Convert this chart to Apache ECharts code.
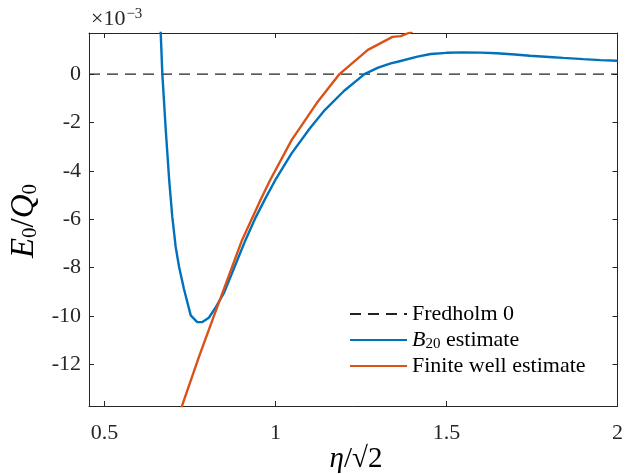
<!DOCTYPE html>
<html>
<head>
<meta charset="utf-8">
<script src="https://cdn.jsdelivr.net/npm/echarts@6/dist/echarts.min.js"></script>
<style>
html,body{margin:0;padding:0;background:#fff;}
#chart{width:626px;height:474px;}
</style>
</head>
<body>
<div id="chart"></div>
<script>
// ---- data (y values in units of 1e-3) ----
var xTicks = [0.5, 1, 1.5, 2];
var yTicks = [-12, -10, -8, -6, -4, -2, 0];
var seriesNames = ['Fredholm 0', 'B20 estimate', 'Finite well estimate'];

var fredholmX = [0.4545, 2];
var fredholmY = [0, 0];

var b20X = [0.660, 0.669, 0.679, 0.689, 0.698, 0.708, 0.718, 0.732, 0.752, 0.771, 0.786, 0.805, 0.825, 0.850, 0.880, 0.912, 0.940, 0.970, 0.999, 1.047, 1.100, 1.144, 1.200, 1.260, 1.300, 1.337, 1.357, 1.415, 1.454, 1.500, 1.550, 1.600, 1.647, 1.700, 1.744, 1.800, 1.841, 1.900, 1.950, 2.000];
var b20Y = [3.2, 0.0, -2.32, -4.39, -5.90, -7.15, -7.98, -8.88, -9.98, -10.26, -10.26, -10.08, -9.65, -9.03, -7.98, -6.87, -5.98, -5.15, -4.39, -3.28, -2.25, -1.49, -0.70, 0.0, 0.27, 0.44, 0.51, 0.72, 0.83, 0.88, 0.90, 0.89, 0.86, 0.81, 0.76, 0.71, 0.67, 0.62, 0.58, 0.55];

var wellX = [0.720, 0.727, 0.776, 0.815, 0.844, 0.902, 0.958, 0.984, 1.047, 1.120, 1.187, 1.270, 1.342, 1.366, 1.391, 1.400];
var wellY = [-14.0, -13.7, -11.7, -10.19, -9.08, -6.87, -5.15, -4.39, -2.73, -1.21, 0.0, 1.00, 1.54, 1.57, 1.71, 1.76];

var xMin = 0.4545, xMax = 2;
var yMin = -13.73, yMax = 1.70;

function pairs(xs, ys) { return xs.map(function (x, i) { return [x, ys[i]]; }); }

var FONT = "'Liberation Serif', 'Times New Roman', serif";
var AX = '#262626';

var chart = echarts.init(document.getElementById('chart'), null, {renderer: 'canvas'});

function mkX(pos, show) {
  return {
    type: 'value', position: pos, min: xMin, max: xMax,
    axisLine: {show: true, onZero: false, lineStyle: {color: AX, width: 1}},
    axisTick: {show: true, inside: true, length: 5, lineStyle: {color: AX}, customValues: xTicks},
    axisLabel: {show: show, customValues: xTicks, margin: 16, color: AX, fontFamily: FONT, fontSize: 22},
    splitLine: {show: false}
  };
}
function mkY(pos, show) {
  return {
    type: 'value', position: pos, min: yMin, max: yMax,
    axisLine: {show: true, onZero: false, lineStyle: {color: AX, width: 1}},
    axisTick: {show: true, inside: true, length: 5, lineStyle: {color: AX}, customValues: yTicks},
    axisLabel: {show: show, customValues: yTicks, margin: 8, color: AX, fontFamily: FONT, fontSize: 22},
    splitLine: {show: false}
  };
}

var option = {
  animation: false,
  backgroundColor: '#fff',
  grid: {left: 89, right: 4, top: 33, bottom: 68, containLabel: false},
  xAxis: [mkX('bottom', true), mkX('top', false)],
  yAxis: [mkY('left', true), mkY('right', false)],
  legend: {
    left: 344, top: 297, orient: 'vertical',
    itemWidth: 57, itemHeight: 14, itemGap: 2,
    data: seriesNames,
    itemStyle: {opacity: 0},
    textStyle: {
      fontFamily: FONT, fontSize: 22, color: '#000', lineHeight: 24,
      rich: {
        it: {fontFamily: FONT, fontSize: 22, fontStyle: 'italic', color: '#000'},
        sub: {fontFamily: FONT, fontSize: 15, color: '#000', verticalAlign: 'bottom', padding: [7, 0, 0, 0]},
        rm: {fontFamily: FONT, fontSize: 22, color: '#000'}
      }
    },
    formatter: function (n) {
      if (n === 'B20 estimate') return '{it|B}{sub|20}{rm| estimate}';
      return n;
    }
  },
  series: [
    {name: seriesNames[0], type: 'line', data: pairs(fredholmX, fredholmY), showSymbol: false, symbol: 'none',
     lineStyle: {color: '#222222', width: 1.1, type: [11, 7]}, itemStyle: {color: '#222222'}, z: 1},
    {name: seriesNames[1], type: 'line', data: pairs(b20X, b20Y), showSymbol: false, symbol: 'none', clip: true,
     lineStyle: {color: '#0072BD', width: 2.4}, itemStyle: {color: '#0072BD'}, z: 2},
    {name: seriesNames[2], type: 'line', data: pairs(wellX, wellY), showSymbol: false, symbol: 'none', clip: true,
     lineStyle: {color: '#D95319', width: 2.4}, itemStyle: {color: '#D95319'}, z: 3}
  ],
  graphic: [
    {type: 'text', left: 91, top: 7, z: 10,
     style: {text: '{a|×10}{s|−3}', fill: '#262626',
       rich: {a: {fontFamily: FONT, fontSize: 22, fill: '#262626'},
              s: {fontFamily: FONT, fontSize: 15, fill: '#262626', verticalAlign: 'top', padding: [0, 0, 9, 1]}}}},
    {type: 'text', x: 24, y: 221, rotation: Math.PI / 2, z: 10,
     style: {text: '{i|E}{b|0}{r|/}{i|Q}{b|0}', align: 'center', verticalAlign: 'middle', fill: '#000',
       rich: {i: {fontFamily: FONT, fontSize: 33, fontStyle: 'italic', fill: '#000'},
              r: {fontFamily: FONT, fontSize: 33, fill: '#000'},
              b: {fontFamily: FONT, fontSize: 21, fill: '#000', verticalAlign: 'bottom', padding: [10, 0, 0, 0]}}}},
    {type: 'text', x: 356, y: 459, z: 10,
     style: {text: '{i|η}{r|/√2}', align: 'center', verticalAlign: 'middle', fill: '#000',
       rich: {i: {fontFamily: FONT, fontSize: 29, fontStyle: 'italic', fill: '#000'},
              r: {fontFamily: FONT, fontSize: 29, fill: '#000'}}}}
  ]
};
chart.setOption(option);
</script>
</body>
</html>
